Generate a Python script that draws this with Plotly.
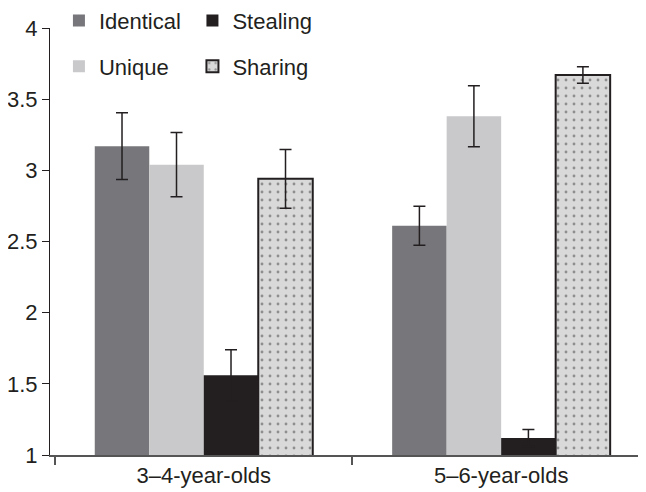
import plotly.graph_objects as go

categories = ["3–4-year-olds", "5–6-year-olds"]
series_names = ["Identical", "Unique", "Stealing", "Sharing"]
identical = [3.17, 2.61]
identical_err = [0.235, 0.137]
unique = [3.04, 3.38]
unique_err = [0.225, 0.215]
stealing = [1.56, 1.12]
stealing_err = [0.18, 0.06]
sharing = [2.94, 3.67]
sharing_err = [0.207, 0.058]
y_ticks = [1, 1.5, 2, 2.5, 3, 3.5, 4]
y_tick_labels = ["1", "1.5", "2", "2.5", "3", "3.5", "4"]

FONT = "Liberation Sans, Arial, sans-serif"
DARK = "#231f20"
err_style = dict(type="data", color=DARK, thickness=1.5, width=6)

fig = go.Figure()
fig.add_trace(go.Bar(name="Identical", x=categories, y=identical,
                     error_y=dict(array=identical_err, **err_style),
                     marker=dict(color="#77777b", line=dict(width=0)),
                     legend="legend", legendgroup="a"))
fig.add_trace(go.Bar(name="Unique", x=categories, y=unique,
                     error_y=dict(array=unique_err, **err_style),
                     marker=dict(color="#c9c9cb", line=dict(width=0)),
                     legend="legend", legendgroup="b"))
fig.add_trace(go.Bar(name="Stealing", x=categories, y=stealing,
                     error_y=dict(array=stealing_err, **err_style),
                     marker=dict(color=DARK, line=dict(width=0)),
                     legend="legend2", legendgroup="c"))
fig.add_trace(go.Bar(name="Sharing", x=categories, y=sharing,
                     error_y=dict(array=sharing_err, **err_style),
                     marker=dict(color="#d9d9d9",
                                 line=dict(color=DARK, width=2),
                                 pattern=dict(shape=".", bgcolor="#d9d9d9",
                                              fgcolor="#444444", size=8,
                                              solidity=0.1)),
                     legend="legend2", legendgroup="d"))

legend_common = dict(orientation="v", yanchor="top", xanchor="left",
                     font=dict(family=FONT, size=22, color=DARK),
                     bgcolor="rgba(0,0,0,0)", tracegroupgap=14,
                     itemwidth=30, traceorder="grouped")

# the page body has an 8px default margin, so the figure is sized to fill the window
fig.update_layout(
    width=638, height=484,
    margin=dict(l=42, r=0, t=20, b=37, autoexpand=False),
    paper_bgcolor="white", plot_bgcolor="white",
    barmode="group", bargap=0.267, bargroupgap=0,
    font=dict(family=FONT, size=22, color=DARK),
    showlegend=True,
    legend=dict(x=0.015, y=1.066, **legend_common),
    legend2=dict(x=0.239, y=1.066, **legend_common),
    xaxis=dict(range=[-0.517, 1.487], showline=True, linecolor="#555555",
               linewidth=2, ticks="outside", tickson="boundaries",
               ticklen=8, tickcolor="#555555", tickwidth=1.5,
               showgrid=False, zeroline=False,
               tickfont=dict(family=FONT, size=22, color=DARK)),
    yaxis=dict(range=[1, 4], tickvals=y_ticks, ticktext=y_tick_labels,
               showline=True, linecolor=DARK, linewidth=1,
               ticks="outside", ticklen=7, tickcolor=DARK, tickwidth=1,
               showgrid=False, zeroline=False,
               tickfont=dict(family=FONT, size=22, color=DARK)),
)

fig.write_html("out.html")
